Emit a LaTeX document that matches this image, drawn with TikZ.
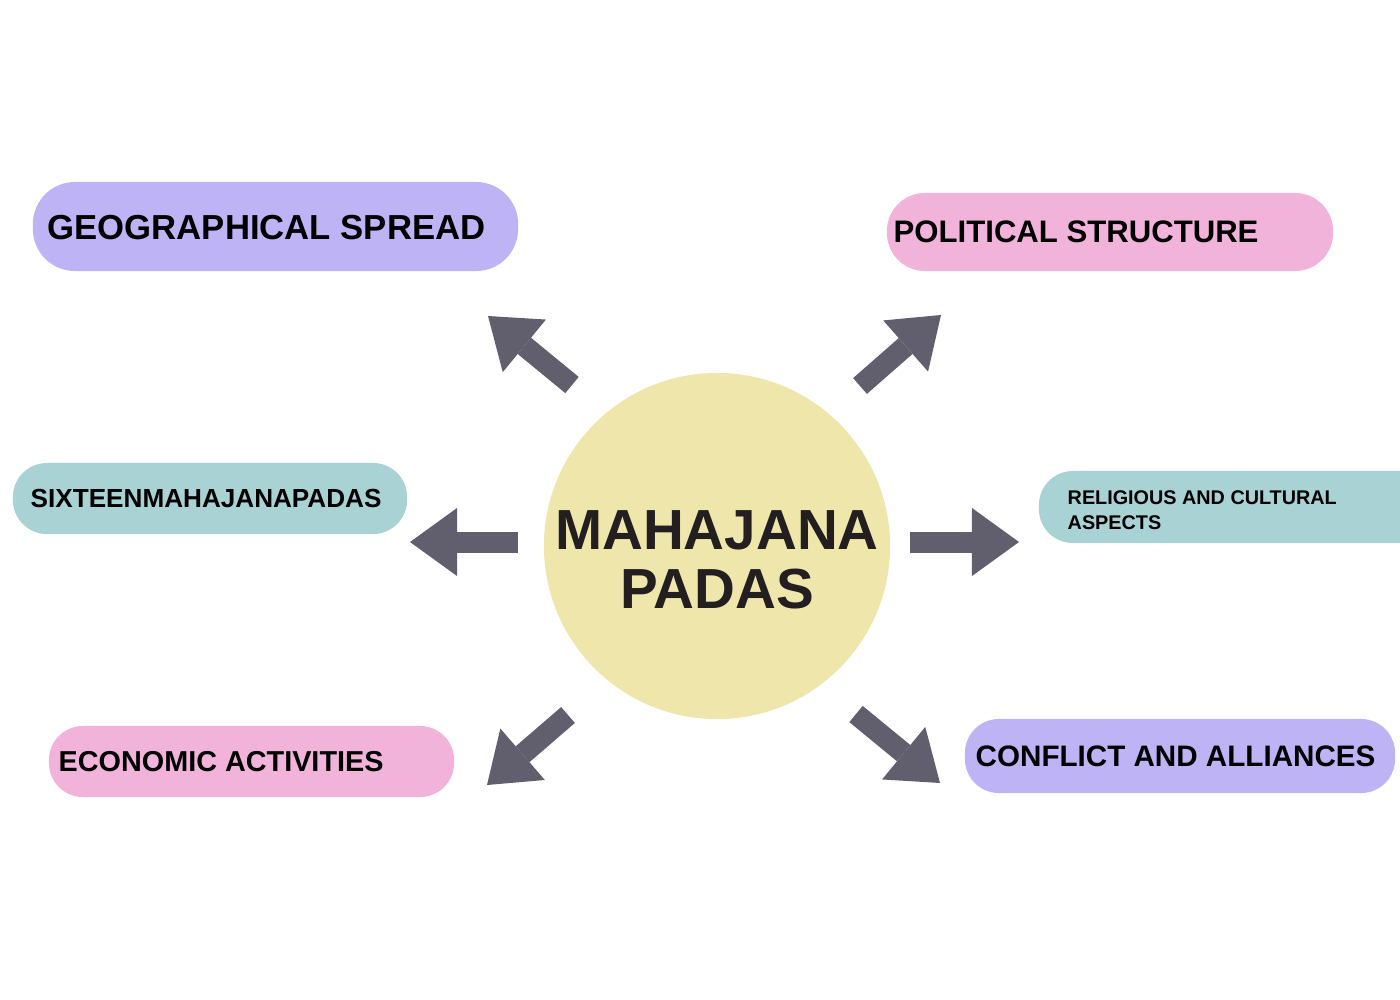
\documentclass[tikz,border=0pt]{standalone}
\usepackage{fontspec}
\setmainfont{Liberation Sans}
\usetikzlibrary{arrows.meta,positioning}

\definecolor{lilac}{HTML}{BDB3F5}
\definecolor{rosa}{HTML}{F2B3DB}
\definecolor{seafoam}{HTML}{A8D2D4}
\definecolor{sand}{HTML}{EFE6AC}
\definecolor{slate}{HTML}{615F6E}
\definecolor{ink}{HTML}{231F20}

\tikzset{
    bubble/.style={rectangle, rounded corners=0.34cm, inner sep=0pt},
    bubbletext/.style={anchor=west, inner sep=0pt, text=black},
    bigarrow/.style={draw=slate, line width=0.21cm,
        -{Triangle[length=0.47cm, width=0.68cm, line width=0pt]}}
}

\begin{document}
\begin{tikzpicture}[x=0.01cm, y=-0.01cm]
    \useasboundingbox (0,0) rectangle (1400,1000);

    % centre
    \node [circle, fill=sand, minimum size=3.46cm, inner sep=0pt] (hub) at (717,546) {};
    \node [font=\fontsize{16.08}{16.79}\selectfont\bfseries, text=ink, align=center, inner sep=0pt]
        (hubtext) at (717,560) {MAHAJANA\\PADAS};

    % boxes
    \node [bubble, fill=lilac, rounded corners=0.42cm, minimum width=4.85cm, minimum height=0.89cm] (geo) at (275.5,226.5) {};
    \node [bubble, fill=rosa, rounded corners=0.38cm, minimum width=4.46cm, minimum height=0.78cm] (pol) at (1110,232) {};
    \node [bubble, fill=seafoam, minimum width=3.94cm, minimum height=0.71cm] (six) at (210,498.5) {};
    \node [bubble, fill=seafoam, minimum width=4.01cm, minimum height=0.72cm] (rel) at (1239.5,507) {};
    \node [bubble, fill=rosa, minimum width=4.05cm, minimum height=0.71cm] (econ) at (251.5,761.5) {};
    \node [bubble, fill=lilac, minimum width=4.30cm, minimum height=0.74cm] (conf) at (1180,756) {};

    \node [bubbletext, font=\fontsize{9.87}{11}\selectfont\bfseries] (geotext) at (47,228) {GEOGRAPHICAL SPREAD};
    \node [bubbletext, font=\fontsize{8.85}{10}\selectfont\bfseries] (poltext) at (893,232) {POLITICAL STRUCTURE};
    \node [bubbletext, font=\fontsize{7.43}{9}\selectfont\bfseries] (sixtext) at (30,498) {SIXTEENMAHAJANAPADAS};
    \node [bubbletext, font=\fontsize{5.63}{7.11}\selectfont\bfseries, align=left] (reltext) at (1067,510.5) {RELIGIOUS AND CULTURAL\\ASPECTS};
    \node [bubbletext, font=\fontsize{8.19}{10}\selectfont\bfseries] (econtext) at (58,762) {ECONOMIC ACTIVITIES};
    \node [bubbletext, font=\fontsize{8.42}{10}\selectfont\bfseries] (conftext) at (975,756) {CONFLICT AND ALLIANCES};

    % arrows
    \coordinate (ul tail) at (572,385);   \coordinate (ul tip) at (488,316);
    \coordinate (ur tail) at (860,386);   \coordinate (ur tip) at (941,315);
    \coordinate (l tail) at (518,542);    \coordinate (l tip) at (410,542);
    \coordinate (r tail) at (910,542);    \coordinate (r tip) at (1019,542);
    \coordinate (ll tail) at (568,715);   \coordinate (ll tip) at (487,785);
    \coordinate (lr tail) at (856,714);   \coordinate (lr tip) at (940,783);
    \foreach \n in {ul,ur,l,r,ll,lr}
    {
      \draw [bigarrow] (\n\space tail) -- (\n\space tip);
    }
\end{tikzpicture}
\end{document}
